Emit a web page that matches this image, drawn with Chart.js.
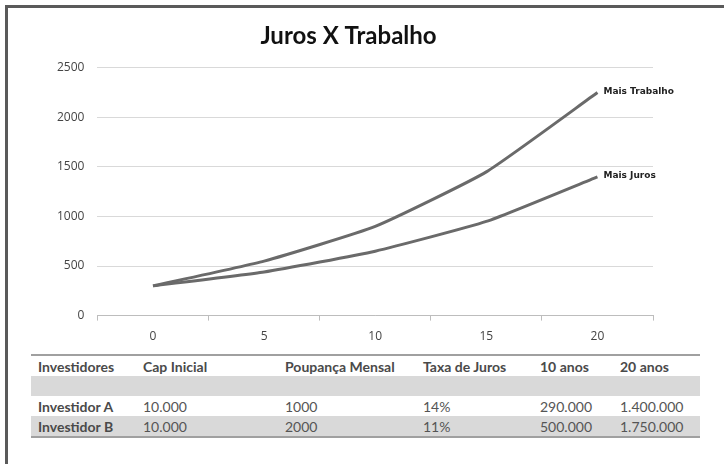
<!DOCTYPE html>
<html>
<head>
<meta charset="utf-8">
<script src="https://cdn.jsdelivr.net/npm/chart.js@4"></script>
<style>
  html, body { margin: 0; padding: 0; background: #fff; overflow: hidden; }
  #frame {
    position: absolute; left: 5px; top: 5px; width: 740px; height: 470px;
    border-top: 3px solid #5a5a5a; border-left: 3px solid #5a5a5a;
  }
  #chart-box { position: absolute; left: 0; top: 8px; width: 724px; height: 345px; }
  #invest-table {
    position: absolute; left: 31px; top: 354px; width: 669px;
    border-collapse: collapse; font-family: Lato, "Open Sans", sans-serif; font-size: 14px;
    color: #555; border-top: 2px solid #a0a0a0; border-bottom: 2px solid #a0a0a0;
  }
  #invest-table td { padding: 0 0 0 7px; height: 20px; white-space: nowrap; }
  #invest-table tr.head td { font-weight: bold; color: #4a4a4a; }
  #invest-table tr.shade td { background: #d9d9d9; }
  #invest-table td.name { font-weight: bold; color: #4a4a4a; }
</style>
</head>
<body>
<div id="frame"></div>
<div id="chart-box"><canvas id="jurosChart"></canvas></div>
<table id="invest-table"></table>
<script>
// anos
const anos = ["0", "5", "10", "15", "20"];
const maisTrabalho = [300, 550, 900, 1450, 2250];
const maisJuros = [300, 440, 650, 950, 1400];

// tabela de investidores
const colunas = ["Investidores", "Cap Inicial", "Poupança Mensal", "Taxa de Juros", "10 anos", "20 anos"];
const investidorA = ["Investidor A", "10.000", "1000", "14%", "290.000", "1.400.000"];
const investidorB = ["Investidor B", "10.000", "2000", "11%", "500.000", "1.750.000"];
const larguras = [105, 142, 138, 117, 80, 87];

function buildTable() {
    const table = document.getElementById('invest-table');
    const cg = document.createElement('colgroup');
    larguras.forEach(w => {
        const c = document.createElement('col');
        c.style.width = w + 'px';
        cg.appendChild(c);
    });
    table.appendChild(cg);

    const addRow = (cells, cls) => {
        const tr = document.createElement('tr');
        if (cls) tr.className = cls;
        cells.forEach((txt, i) => {
            const td = document.createElement('td');
            td.textContent = txt;
            if (i === 0 && cls !== 'head') td.classList.add('name');
            tr.appendChild(td);
        });
        table.appendChild(tr);
    };
    addRow(colunas, 'head');
    addRow(colunas.map(() => ''), 'shade');
    addRow(investidorA, '');
    addRow(investidorB, 'shade');
}

// escreve o nome da série ao lado do último ponto
const endLabels = {
    id: 'endLabels',
    afterDatasetsDraw(chart) {
        const ctx = chart.ctx;
        ctx.save();
        ctx.font = 'bold 9px Verdana, "DejaVu Sans", sans-serif';
        ctx.fillStyle = '#222';
        ctx.textBaseline = 'middle';
        chart.data.datasets.forEach((ds, i) => {
            const pts = chart.getDatasetMeta(i).data;
            const last = pts[pts.length - 1];
            ctx.fillText(ds.label, last.x + 6, last.y - 1);
        });
        ctx.restore();
    }
};

function createLineChart(id) {
    const lineColor = '#6a6a6a';
    const tickFont = { family: '"Open Sans", sans-serif', size: 12 };
    return new Chart(id, {
        type: 'line',
        data: {
            labels: anos,
            datasets: [{
                label: 'Mais Trabalho',
                data: maisTrabalho,
                borderColor: lineColor,
                borderWidth: 3,
                pointRadius: 0,
                tension: 0.15
            }, {
                label: 'Mais Juros',
                data: maisJuros,
                borderColor: lineColor,
                borderWidth: 3,
                pointRadius: 0,
                tension: 0.15
            }]
        },
        options: {
            responsive: true,
            maintainAspectRatio: false,
            animation: false,
            layout: { padding: { left: 44, right: 71, top: 0, bottom: 0 } },
            plugins: {
                legend: { display: false },
                tooltip: { enabled: false },
                title: {
                    display: true,
                    text: 'Juros X Trabalho',
                    color: '#111',
                    font: { family: 'Lato, "Open Sans", sans-serif', size: 24, weight: 'bold' },
                    padding: { top: 14, bottom: 17 }
                }
            },
            scales: {
                x: {
                    offset: true,
                    grid: {
                        offset: true,
                        drawOnChartArea: false,
                        drawTicks: true,
                        tickLength: 5,
                        color: '#bdbdbd'
                    },
                    border: { display: true, color: '#bdbdbd' },
                    ticks: {
                        color: '#444',
                        padding: 9,
                        font: tickFont
                    }
                },
                y: {
                    min: 0,
                    max: 2500,
                    ticks: {
                        stepSize: 500,
                        color: '#444',
                        padding: 13,
                        font: tickFont,
                        callback: v => String(v)
                    },
                    grid: { color: '#d9d9d9', drawTicks: false },
                    border: { display: false }
                }
            }
        },
        plugins: [endLabels]
    });
}

buildTable();
createLineChart('jurosChart');
</script>
</body>
</html>
